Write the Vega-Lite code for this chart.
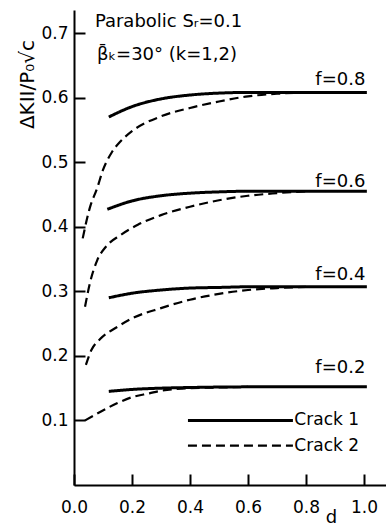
{
  "$schema": "https://vega.github.io/schema/vega-lite/v6.json",
  "width": 312,
  "height": 475,
  "autosize": "none",
  "padding": {"left": 74, "top": 10, "right": 0, "bottom": 41},
  "background": "white",
  "config": {
    "view": {"stroke": null},
    "font": "DejaVu Sans",
    "axis": {
      "grid": false,
      "domainColor": "black",
      "tickColor": "black",
      "labelColor": "black",
      "titleColor": "black",
      "domainWidth": 2,
      "tickWidth": 2,
      "labelFontSize": 17,
      "labelFont": "DejaVu Sans",
      "titleFont": "DejaVu Sans",
      "titleFontWeight": "normal"
    }
  },
  "datasets": {
    "curves": [
      {"f": 0.8, "crack": "Crack 1", "d": 0.12, "value": 0.570},
      {"f": 0.8, "crack": "Crack 1", "d": 0.2, "value": 0.586},
      {"f": 0.8, "crack": "Crack 1", "d": 0.3, "value": 0.598},
      {"f": 0.8, "crack": "Crack 1", "d": 0.4, "value": 0.604},
      {"f": 0.8, "crack": "Crack 1", "d": 0.5, "value": 0.607},
      {"f": 0.8, "crack": "Crack 1", "d": 0.6, "value": 0.608},
      {"f": 0.8, "crack": "Crack 1", "d": 0.8, "value": 0.608},
      {"f": 0.8, "crack": "Crack 1", "d": 1.01, "value": 0.608},
      {"f": 0.6, "crack": "Crack 1", "d": 0.115, "value": 0.427},
      {"f": 0.6, "crack": "Crack 1", "d": 0.2, "value": 0.440},
      {"f": 0.6, "crack": "Crack 1", "d": 0.3, "value": 0.448},
      {"f": 0.6, "crack": "Crack 1", "d": 0.4, "value": 0.452},
      {"f": 0.6, "crack": "Crack 1", "d": 0.5, "value": 0.454},
      {"f": 0.6, "crack": "Crack 1", "d": 0.6, "value": 0.455},
      {"f": 0.6, "crack": "Crack 1", "d": 0.8, "value": 0.455},
      {"f": 0.6, "crack": "Crack 1", "d": 1.01, "value": 0.455},
      {"f": 0.4, "crack": "Crack 1", "d": 0.12, "value": 0.290},
      {"f": 0.4, "crack": "Crack 1", "d": 0.2, "value": 0.297},
      {"f": 0.4, "crack": "Crack 1", "d": 0.3, "value": 0.302},
      {"f": 0.4, "crack": "Crack 1", "d": 0.4, "value": 0.305},
      {"f": 0.4, "crack": "Crack 1", "d": 0.5, "value": 0.306},
      {"f": 0.4, "crack": "Crack 1", "d": 0.6, "value": 0.307},
      {"f": 0.4, "crack": "Crack 1", "d": 0.8, "value": 0.307},
      {"f": 0.4, "crack": "Crack 1", "d": 1.01, "value": 0.307},
      {"f": 0.2, "crack": "Crack 1", "d": 0.12, "value": 0.145},
      {"f": 0.2, "crack": "Crack 1", "d": 0.2, "value": 0.148},
      {"f": 0.2, "crack": "Crack 1", "d": 0.3, "value": 0.150},
      {"f": 0.2, "crack": "Crack 1", "d": 0.4, "value": 0.151},
      {"f": 0.2, "crack": "Crack 1", "d": 0.6, "value": 0.152},
      {"f": 0.2, "crack": "Crack 1", "d": 1.01, "value": 0.152},
      {"f": 0.8, "crack": "Crack 2", "d": 0.03, "value": 0.382},
      {"f": 0.8, "crack": "Crack 2", "d": 0.055, "value": 0.430},
      {"f": 0.8, "crack": "Crack 2", "d": 0.08, "value": 0.460},
      {"f": 0.8, "crack": "Crack 2", "d": 0.1, "value": 0.488},
      {"f": 0.8, "crack": "Crack 2", "d": 0.13, "value": 0.515},
      {"f": 0.8, "crack": "Crack 2", "d": 0.16, "value": 0.532},
      {"f": 0.8, "crack": "Crack 2", "d": 0.2, "value": 0.548},
      {"f": 0.8, "crack": "Crack 2", "d": 0.3, "value": 0.571},
      {"f": 0.8, "crack": "Crack 2", "d": 0.4, "value": 0.584},
      {"f": 0.8, "crack": "Crack 2", "d": 0.5, "value": 0.594},
      {"f": 0.8, "crack": "Crack 2", "d": 0.6, "value": 0.602},
      {"f": 0.8, "crack": "Crack 2", "d": 0.7, "value": 0.606},
      {"f": 0.8, "crack": "Crack 2", "d": 0.8, "value": 0.608},
      {"f": 0.6, "crack": "Crack 2", "d": 0.038, "value": 0.276},
      {"f": 0.6, "crack": "Crack 2", "d": 0.055, "value": 0.313},
      {"f": 0.6, "crack": "Crack 2", "d": 0.08, "value": 0.348},
      {"f": 0.6, "crack": "Crack 2", "d": 0.11, "value": 0.369},
      {"f": 0.6, "crack": "Crack 2", "d": 0.16, "value": 0.387},
      {"f": 0.6, "crack": "Crack 2", "d": 0.22, "value": 0.403},
      {"f": 0.6, "crack": "Crack 2", "d": 0.3, "value": 0.418},
      {"f": 0.6, "crack": "Crack 2", "d": 0.4, "value": 0.431},
      {"f": 0.6, "crack": "Crack 2", "d": 0.5, "value": 0.441},
      {"f": 0.6, "crack": "Crack 2", "d": 0.6, "value": 0.448},
      {"f": 0.6, "crack": "Crack 2", "d": 0.7, "value": 0.452},
      {"f": 0.6, "crack": "Crack 2", "d": 0.8, "value": 0.455},
      {"f": 0.4, "crack": "Crack 2", "d": 0.041, "value": 0.186},
      {"f": 0.4, "crack": "Crack 2", "d": 0.06, "value": 0.209},
      {"f": 0.4, "crack": "Crack 2", "d": 0.09, "value": 0.226},
      {"f": 0.4, "crack": "Crack 2", "d": 0.15, "value": 0.245},
      {"f": 0.4, "crack": "Crack 2", "d": 0.2, "value": 0.258},
      {"f": 0.4, "crack": "Crack 2", "d": 0.3, "value": 0.274},
      {"f": 0.4, "crack": "Crack 2", "d": 0.4, "value": 0.287},
      {"f": 0.4, "crack": "Crack 2", "d": 0.5, "value": 0.296},
      {"f": 0.4, "crack": "Crack 2", "d": 0.6, "value": 0.302},
      {"f": 0.4, "crack": "Crack 2", "d": 0.7, "value": 0.305},
      {"f": 0.4, "crack": "Crack 2", "d": 0.8, "value": 0.307},
      {"f": 0.2, "crack": "Crack 2", "d": 0.038, "value": 0.100},
      {"f": 0.2, "crack": "Crack 2", "d": 0.09, "value": 0.113},
      {"f": 0.2, "crack": "Crack 2", "d": 0.15, "value": 0.127},
      {"f": 0.2, "crack": "Crack 2", "d": 0.2, "value": 0.136},
      {"f": 0.2, "crack": "Crack 2", "d": 0.26, "value": 0.142},
      {"f": 0.2, "crack": "Crack 2", "d": 0.3, "value": 0.146},
      {"f": 0.2, "crack": "Crack 2", "d": 0.4, "value": 0.150},
      {"f": 0.2, "crack": "Crack 2", "d": 0.5, "value": 0.151},
      {"f": 0.2, "crack": "Crack 2", "d": 0.6, "value": 0.152}
    ],
    "legendLines": [
      {"crack": "Crack 1", "d": 0.393, "value": 0.1},
      {"crack": "Crack 1", "d": 0.755, "value": 0.1},
      {"crack": "Crack 2", "d": 0.393, "value": 0.061},
      {"crack": "Crack 2", "d": 0.755, "value": 0.061}
    ],
    "legendText": [
      {"label": "Crack 1", "d": 0.76, "value": 0.1},
      {"label": "Crack 2", "d": 0.76, "value": 0.061}
    ],
    "fLabels": [
      {"label": "f=0.8", "d": 1.005, "value": 0.62},
      {"label": "f=0.6", "d": 1.005, "value": 0.461},
      {"label": "f=0.4", "d": 1.005, "value": 0.317},
      {"label": "f=0.2", "d": 1.005, "value": 0.173}
    ],
    "notes": [
      {"label": "Parabolic   Sᵣ=0.1", "d": 0.072, "value": 0.709},
      {"label": "β̄ₖ=30° (k=1,2)", "d": 0.079, "value": 0.658}
    ]
  },
  "layer": [
    {
      "data": {"name": "curves"},
      "mark": {"type": "line", "color": "black", "interpolate": "monotone"},
      "encoding": {
        "x": {
          "field": "d", "type": "quantitative",
          "scale": {"domain": [0, 1.076], "nice": false, "zero": false},
          "axis": {
            "title": "d", "values": [0, 0.2, 0.4, 0.6, 0.8, 1.0], "format": ".1f",
            "tickSize": -11, "labelPadding": 25, "labelFlush": false,
            "titleX": 257, "titleY": 37, "titleBaseline": "alphabetic", "titleAlign": "center", "titleFontSize": 18
          }
        },
        "y": {
          "field": "value", "type": "quantitative",
          "scale": {"domain": [0, 0.7357], "nice": false},
          "axis": {
            "title": "ΔKII/P₀√c", "values": [0.1, 0.2, 0.3, 0.4, 0.5, 0.6, 0.7], "format": ".1f",
            "tickSize": -11, "labelPadding": 17,
            "titleX": -47, "titleY": 74, "titleAngle": -90, "titleAlign": "center", "titleBaseline": "middle", "titleFontSize": 20
          }
        },
        "detail": {"field": "f", "type": "nominal"},
        "strokeDash": {"field": "crack", "type": "nominal", "scale": {"domain": ["Crack 1", "Crack 2"], "range": [[1, 0], [9, 5]]}, "legend": null},
        "strokeWidth": {"field": "crack", "type": "ordinal", "scale": {"domain": ["Crack 1", "Crack 2"], "range": [3, 2.2]}, "legend": null}
      }
    },
    {
      "data": {"name": "legendLines"},
      "mark": {"type": "line", "color": "black"},
      "encoding": {
        "x": {"field": "d", "type": "quantitative"},
        "y": {"field": "value", "type": "quantitative"},
        "strokeDash": {"field": "crack", "type": "nominal", "legend": null},
        "strokeWidth": {"field": "crack", "type": "ordinal", "legend": null}
      }
    },
    {
      "data": {"name": "legendText"},
      "mark": {"type": "text", "align": "left", "baseline": "middle", "fontSize": 17, "color": "black"},
      "encoding": {
        "x": {"field": "d", "type": "quantitative"},
        "y": {"field": "value", "type": "quantitative"},
        "text": {"field": "label"}
      }
    },
    {
      "data": {"name": "fLabels"},
      "mark": {"type": "text", "align": "right", "baseline": "alphabetic", "fontSize": 18, "color": "black"},
      "encoding": {
        "x": {"field": "d", "type": "quantitative"},
        "y": {"field": "value", "type": "quantitative"},
        "text": {"field": "label"}
      }
    },
    {
      "data": {"name": "notes"},
      "mark": {"type": "text", "align": "left", "baseline": "alphabetic", "fontSize": 18, "color": "black"},
      "encoding": {
        "x": {"field": "d", "type": "quantitative"},
        "y": {"field": "value", "type": "quantitative"},
        "text": {"field": "label"}
      }
    }
  ]
}
